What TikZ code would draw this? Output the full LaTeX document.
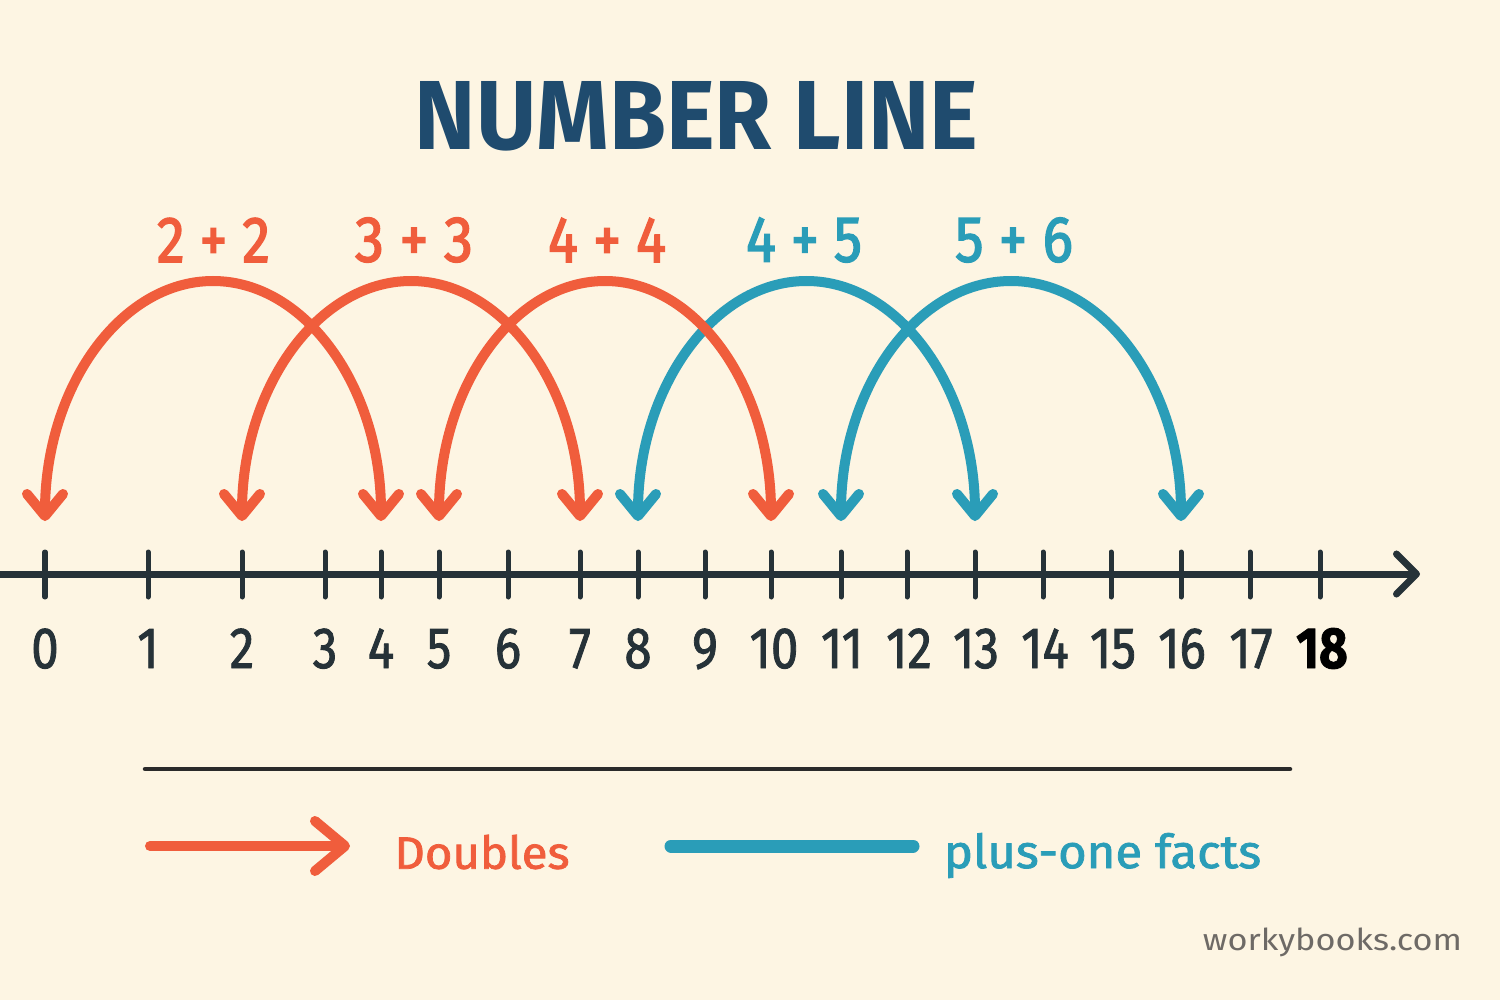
\documentclass[tikz,border=0pt]{standalone}
\usepackage{fontspec}
\setmainfont{Fira Sans}
\newfontfamily\medfont[FakeBold=1.6]{Fira Sans}
\newfontfamily\semifont[FakeBold=2.4]{Fira Sans}
\usepackage{graphicx}
\usetikzlibrary{arrows.meta}
\definecolor{bgc}{HTML}{FDF5E3}
\definecolor{orng}{HTML}{F05D3C}
\definecolor{tealc}{HTML}{2A9DB8}
\definecolor{axisc}{HTML}{263238}
\definecolor{titlec}{HTML}{1F4B6E}
\definecolor{sepc}{HTML}{2A2A2A}
\definecolor{logoc}{HTML}{6E6A66}
\newcommand\nlab[1]{\scalebox{0.85}[1]{#1}}
\begin{document}
\begin{tikzpicture}[x=0.01cm,y=-0.01cm,
  arcline/.style={line width=0.1cm, line cap=round,
    arrows={Straight Barb[length=0.22cm,width=0.36cm,round]-Straight Barb[length=0.22cm,width=0.36cm,round]}},
  axisline/.style={draw=axisc, line width=0.07cm, line cap=round,
    arrows={-Straight Barb[length=0.2cm,width=0.4cm,round]}},
  tickline/.style={draw=axisc, line width=0.05cm, line cap=round},
  numlbl/.style={anchor=base, inner sep=0pt, text=axisc, font=\medfont\fontsize{16.5}{16.5}\selectfont},
  txt/.style={inner sep=0pt, anchor=center}]
% background / bounding box
\fill[bgc] (0,0) rectangle (1500,1000);
\useasboundingbox (0,0) rectangle (1500,1000);

% title
\node[txt, text=titlec] (title) at (696.5,116) {\resizebox{5.63cm}{0.68cm}{\bfseries NUMBER LINE}};

% axis
\coordinate (ax0) at (0,574);
\coordinate (axend) at (1420,574);
\draw[axisline] (ax0) -- (axend);
\foreach \x in {45,148,242,325,381,439,508,580,638,705,771,841,907,975,1043,1111,1181,1250,1320}
  \draw[tickline] (\x,552) -- (\x,597);

% number labels
\node[numlbl] (n0) at (45,668) {\nlab{0}};
\node[numlbl] (n1) at (148,668) {\nlab{1}};
\node[numlbl] (n2) at (242,668) {\nlab{2}};
\node[numlbl] (n3) at (325,668) {\nlab{3}};
\node[numlbl] (n4) at (381,668) {\nlab{4}};
\node[numlbl] (n5) at (439,668) {\nlab{5}};
\node[numlbl] (n6) at (508,668) {\nlab{6}};
\node[numlbl] (n7) at (580,668) {\nlab{7}};
\node[numlbl] (n8) at (638,668) {\nlab{8}};
\node[numlbl] (n9) at (705,668) {\nlab{9}};
\node[numlbl] (n10) at (774,668) {\nlab{10}};
\node[numlbl] (n11) at (842,668) {\nlab{11}};
\node[numlbl] (n12) at (909,668) {\nlab{12}};
\node[numlbl] (n13) at (976,668) {\nlab{13}};
\node[numlbl] (n14) at (1045,668) {\nlab{14}};
\node[numlbl] (n15) at (1113,668) {\nlab{15}};
\node[numlbl] (n16) at (1182,668) {\nlab{16}};
\node[numlbl] (n17) at (1251,668) {\nlab{17}};
\node[numlbl, text=black] (n18) at (1322,668) {\nlab{\bfseries 18}};

% arc end points and peaks
\coordinate (t0) at (45,521);
\coordinate (t2) at (242,521);
\coordinate (t4) at (381,521);
\coordinate (t5) at (439,521);
\coordinate (t7) at (580,521);
\coordinate (t8) at (638,521);
\coordinate (t10) at (771,521);
\coordinate (t11) at (841,521);
\coordinate (t13) at (975,521);
\coordinate (t16) at (1181,521);
\coordinate (pk1) at (213,281);
\coordinate (pk2) at (411,281);
\coordinate (pk3) at (605,281);
\coordinate (pk4) at (806.5,281);
\coordinate (pk5) at (1011,281);

% teal arcs
\draw[arcline, tealc] (t8) .. controls +(0,-133) and +(-93,0) .. (pk4) .. controls +(93,0) and +(0,-133) .. (t13);
\draw[arcline, tealc] (t11) .. controls +(0,-133) and +(-94,0) .. (pk5) .. controls +(94,0) and +(0,-133) .. (t16);
% orange arcs
\draw[arcline, orng] (t0) .. controls +(0,-133) and +(-93,0) .. (pk1) .. controls +(93,0) and +(0,-133) .. (t4);
\draw[arcline, orng] (t2) .. controls +(0,-133) and +(-93,0) .. (pk2) .. controls +(93,0) and +(0,-133) .. (t7);
\draw[arcline, orng] (t5) .. controls +(0,-133) and +(-92,0) .. (pk3) .. controls +(92,0) and +(0,-133) .. (t10);

% arc labels
\node[txt, text=orng] (l1) at (213.5,240) {\resizebox{1.13cm}{0.44cm}{\semifont 2 + 2}};
\node[txt, text=orng] (l2) at (414,240) {\resizebox{1.18cm}{0.44cm}{\semifont 3 + 3}};
\node[txt, text=orng] (l3) at (607,240) {\resizebox{1.18cm}{0.44cm}{\semifont 4 + 4}};
\node[txt, text=tealc] (l4) at (804,240) {\resizebox{1.16cm}{0.44cm}{\semifont 4 + 5}};
\node[txt, text=tealc] (l5) at (1014,240) {\resizebox{1.18cm}{0.44cm}{\semifont 5 + 6}};

% separator
\coordinate (s1) at (145,769);
\coordinate (s2) at (1290,769);
\draw[sepc, line width=0.045cm, line cap=round] (s1) -- (s2);

% legend
\coordinate (la1) at (150,846);
\coordinate (la2) at (350,846);
\draw[orng, line width=0.1cm, line cap=round, arrows={-Straight Barb[length=0.3cm,width=0.5cm,round]}] (la1) -- (la2);
\node[txt, text=orng] (leg1) at (482,852) {\resizebox{1.75cm}{0.34cm}{\medfont Doubles}};
\coordinate (lt1) at (671,846);
\coordinate (lt2) at (913,846);
\draw[tealc, line width=0.13cm, line cap=round] (lt1) -- (lt2);
\node[txt, text=tealc] (leg2) at (1102.5,855.5) {\resizebox*{3.17cm}{0.45cm}{\medfont plus-one facts}};

% logo
\node[txt, text=logoc] (logo) at (1332.5,942.5) {\resizebox*{2.59cm}{0.29cm}{workybooks.com}};
\end{tikzpicture}
\end{document}
